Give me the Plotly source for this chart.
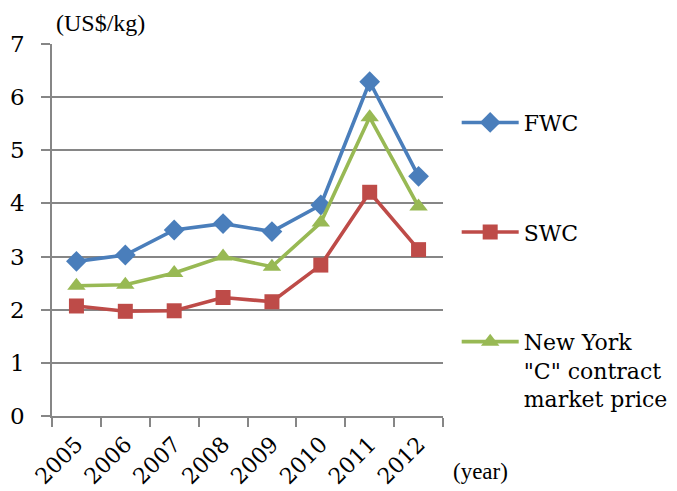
import plotly.graph_objects as go

years = ["2005", "2006", "2007", "2008", "2009", "2010", "2011", "2012"]
fwc = [2.91, 3.03, 3.50, 3.62, 3.47, 3.97, 6.29, 4.51]
swc = [2.07, 1.97, 1.98, 2.23, 2.15, 2.84, 4.21, 3.13]
nyc = [2.45, 2.47, 2.69, 3.00, 2.81, 3.64, 5.62, 3.94]
y_ticks = [0, 1, 2, 3, 4, 5, 6, 7]

series = [
    ("FWC", fwc, "#4A7EBB", "diamond", 16),
    ("SWC", swc, "#BE4B48", "square", 15),
    ("New York<br>\"C\" contract<br>market price", nyc, "#98B954", "triangle-up", 16),
]

fig = go.Figure()
for i, (name, vals, col, sym, sz) in enumerate(series):
    fig.add_trace(go.Scatter(
        x=years, y=vals, name=name, mode="lines+markers",
        legendgroup=f"g{i}",
        line=dict(color=col, width=3.6),
        marker=dict(symbol=sym, size=sz, color=col, line=dict(width=0)),
    ))

axis_col = "#868686"
# page body has an 8px margin; figure is sized/offset to compensate
fig.update_layout(
    width=669, height=483,
    margin=dict(l=44, r=234, t=36, b=75, autoexpand=False),
    paper_bgcolor="white", plot_bgcolor="white",
    font=dict(family="DejaVu Serif", size=22, color="black"),
    showlegend=True,
    legend=dict(
        x=1.035, xanchor="left", y=0.845, yanchor="top",
        tracegroupgap=78, itemwidth=57, valign="top",
        font=dict(family="DejaVu Serif", size=22, color="black"),
        bgcolor="rgba(0,0,0,0)",
    ),
    xaxis=dict(
        type="category", tickson="boundaries", ticks="outside", ticklen=9,
        tickcolor=axis_col, tickwidth=1.5, showline=True, linecolor=axis_col,
        linewidth=1.5, showgrid=False, tickangle=-45, automargin=False,
        ticklabelstandoff=5,
        tickfont=dict(family="DejaVu Serif", size=22),
        range=[-0.5, 7.5], fixedrange=True,
    ),
    yaxis=dict(
        range=[0, 7], tickvals=y_ticks, ticks="outside", ticklen=9,
        tickcolor=axis_col, tickwidth=1.5, showline=True, linecolor=axis_col,
        linewidth=1.5, showgrid=True, gridcolor=axis_col, gridwidth=1.5,
        zeroline=False, ticklabelstandoff=12, automargin=False,
        tickfont=dict(family="DejaVu Serif", size=23),
    ),
    annotations=[
        dict(text="(US$/kg)", xref="paper", yref="paper", x=0.005, y=1.0,
             xanchor="left", yanchor="bottom", yshift=6, showarrow=False,
             font=dict(family="Liberation Serif", size=24)),
        dict(text="(year)", xref="paper", yref="paper", x=1.02, y=0,
             xanchor="left", yanchor="top", yshift=-41, showarrow=False,
             font=dict(family="Liberation Serif", size=23)),
    ],
)

fig.write_html("out.html")
